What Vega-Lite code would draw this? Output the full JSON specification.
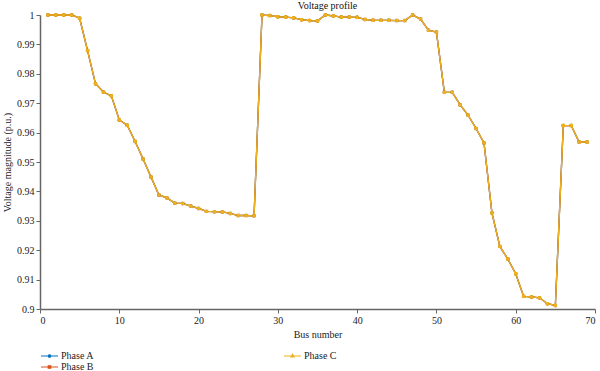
{
  "$schema": "https://vega.github.io/schema/vega-lite/v6.json",
  "width": 555,
  "height": 294,
  "autosize": {"type": "none"},
  "padding": {"left": 40, "top": 15, "right": 5, "bottom": 62},
  "config": {
    "font": "Liberation Serif",
    "view": {"stroke": null},
    "axis": {"labelFont": "Liberation Serif", "titleFont": "Liberation Serif", "labelFontSize": 10, "titleFontSize": 10, "titleFontWeight": "normal", "domainColor": "#666666", "tickColor": "#666666", "labelColor": "#222222", "titleColor": "#222222", "grid": false, "tickSize": 4, "domainWidth": 1.5},
    "legend": {"labelFont": "Liberation Serif", "labelFontSize": 10, "labelColor": "#222222"}
  },
  "title": {"text": "Voltage profile", "font": "Liberation Serif", "fontSize": 10, "fontWeight": "normal", "color": "#111111", "anchor": "middle", "offset": -1, "dx": 10},
  "data": {"values": [
    {"bus":1,"phase":"Phase A","v":1.0},{"bus":2,"phase":"Phase A","v":1.0},{"bus":3,"phase":"Phase A","v":1.0},{"bus":4,"phase":"Phase A","v":1.0},{"bus":5,"phase":"Phase A","v":0.9989},{"bus":6,"phase":"Phase A","v":0.9879},{"bus":7,"phase":"Phase A","v":0.9766},{"bus":8,"phase":"Phase A","v":0.9738},{"bus":9,"phase":"Phase A","v":0.9725},{"bus":10,"phase":"Phase A","v":0.9643},{"bus":11,"phase":"Phase A","v":0.9625},{"bus":12,"phase":"Phase A","v":0.957},{"bus":13,"phase":"Phase A","v":0.951},{"bus":14,"phase":"Phase A","v":0.9449},{"bus":15,"phase":"Phase A","v":0.9388},{"bus":16,"phase":"Phase A","v":0.9378},{"bus":17,"phase":"Phase A","v":0.936},{"bus":18,"phase":"Phase A","v":0.9359},{"bus":19,"phase":"Phase A","v":0.935},{"bus":20,"phase":"Phase A","v":0.9342},{"bus":21,"phase":"Phase A","v":0.9332},{"bus":22,"phase":"Phase A","v":0.9331},{"bus":23,"phase":"Phase A","v":0.933},{"bus":24,"phase":"Phase A","v":0.9325},{"bus":25,"phase":"Phase A","v":0.9318},{"bus":26,"phase":"Phase A","v":0.9318},{"bus":27,"phase":"Phase A","v":0.9317},{"bus":28,"phase":"Phase A","v":1.0},{"bus":29,"phase":"Phase A","v":0.9998},{"bus":30,"phase":"Phase A","v":0.9994},{"bus":31,"phase":"Phase A","v":0.9993},{"bus":32,"phase":"Phase A","v":0.999},{"bus":33,"phase":"Phase A","v":0.9984},{"bus":34,"phase":"Phase A","v":0.9981},{"bus":35,"phase":"Phase A","v":0.998},{"bus":36,"phase":"Phase A","v":1.0},{"bus":37,"phase":"Phase A","v":0.9997},{"bus":38,"phase":"Phase A","v":0.9993},{"bus":39,"phase":"Phase A","v":0.9993},{"bus":40,"phase":"Phase A","v":0.9992},{"bus":41,"phase":"Phase A","v":0.9985},{"bus":42,"phase":"Phase A","v":0.9982},{"bus":43,"phase":"Phase A","v":0.9982},{"bus":44,"phase":"Phase A","v":0.9982},{"bus":45,"phase":"Phase A","v":0.9981},{"bus":46,"phase":"Phase A","v":0.9981},{"bus":47,"phase":"Phase A","v":1.0},{"bus":48,"phase":"Phase A","v":0.9986},{"bus":49,"phase":"Phase A","v":0.9948},{"bus":50,"phase":"Phase A","v":0.9942},{"bus":51,"phase":"Phase A","v":0.9737},{"bus":52,"phase":"Phase A","v":0.9737},{"bus":53,"phase":"Phase A","v":0.9694},{"bus":54,"phase":"Phase A","v":0.9659},{"bus":55,"phase":"Phase A","v":0.9614},{"bus":56,"phase":"Phase A","v":0.9565},{"bus":57,"phase":"Phase A","v":0.9327},{"bus":58,"phase":"Phase A","v":0.9213},{"bus":59,"phase":"Phase A","v":0.917},{"bus":60,"phase":"Phase A","v":0.912},{"bus":61,"phase":"Phase A","v":0.9043},{"bus":62,"phase":"Phase A","v":0.9041},{"bus":63,"phase":"Phase A","v":0.9038},{"bus":64,"phase":"Phase A","v":0.9018},{"bus":65,"phase":"Phase A","v":0.9012},{"bus":66,"phase":"Phase A","v":0.9624},{"bus":67,"phase":"Phase A","v":0.9624},{"bus":68,"phase":"Phase A","v":0.9568},{"bus":69,"phase":"Phase A","v":0.9568},
    {"bus":1,"phase":"Phase B","v":1.0},{"bus":2,"phase":"Phase B","v":1.0},{"bus":3,"phase":"Phase B","v":1.0},{"bus":4,"phase":"Phase B","v":1.0},{"bus":5,"phase":"Phase B","v":0.9989},{"bus":6,"phase":"Phase B","v":0.9879},{"bus":7,"phase":"Phase B","v":0.9766},{"bus":8,"phase":"Phase B","v":0.9738},{"bus":9,"phase":"Phase B","v":0.9725},{"bus":10,"phase":"Phase B","v":0.9643},{"bus":11,"phase":"Phase B","v":0.9625},{"bus":12,"phase":"Phase B","v":0.957},{"bus":13,"phase":"Phase B","v":0.951},{"bus":14,"phase":"Phase B","v":0.9449},{"bus":15,"phase":"Phase B","v":0.9388},{"bus":16,"phase":"Phase B","v":0.9378},{"bus":17,"phase":"Phase B","v":0.936},{"bus":18,"phase":"Phase B","v":0.9359},{"bus":19,"phase":"Phase B","v":0.935},{"bus":20,"phase":"Phase B","v":0.9342},{"bus":21,"phase":"Phase B","v":0.9332},{"bus":22,"phase":"Phase B","v":0.9331},{"bus":23,"phase":"Phase B","v":0.933},{"bus":24,"phase":"Phase B","v":0.9325},{"bus":25,"phase":"Phase B","v":0.9318},{"bus":26,"phase":"Phase B","v":0.9318},{"bus":27,"phase":"Phase B","v":0.9317},{"bus":28,"phase":"Phase B","v":1.0},{"bus":29,"phase":"Phase B","v":0.9998},{"bus":30,"phase":"Phase B","v":0.9994},{"bus":31,"phase":"Phase B","v":0.9993},{"bus":32,"phase":"Phase B","v":0.999},{"bus":33,"phase":"Phase B","v":0.9984},{"bus":34,"phase":"Phase B","v":0.9981},{"bus":35,"phase":"Phase B","v":0.998},{"bus":36,"phase":"Phase B","v":1.0},{"bus":37,"phase":"Phase B","v":0.9997},{"bus":38,"phase":"Phase B","v":0.9993},{"bus":39,"phase":"Phase B","v":0.9993},{"bus":40,"phase":"Phase B","v":0.9992},{"bus":41,"phase":"Phase B","v":0.9985},{"bus":42,"phase":"Phase B","v":0.9982},{"bus":43,"phase":"Phase B","v":0.9982},{"bus":44,"phase":"Phase B","v":0.9982},{"bus":45,"phase":"Phase B","v":0.9981},{"bus":46,"phase":"Phase B","v":0.9981},{"bus":47,"phase":"Phase B","v":1.0},{"bus":48,"phase":"Phase B","v":0.9986},{"bus":49,"phase":"Phase B","v":0.9948},{"bus":50,"phase":"Phase B","v":0.9942},{"bus":51,"phase":"Phase B","v":0.9737},{"bus":52,"phase":"Phase B","v":0.9737},{"bus":53,"phase":"Phase B","v":0.9694},{"bus":54,"phase":"Phase B","v":0.9659},{"bus":55,"phase":"Phase B","v":0.9614},{"bus":56,"phase":"Phase B","v":0.9565},{"bus":57,"phase":"Phase B","v":0.9327},{"bus":58,"phase":"Phase B","v":0.9213},{"bus":59,"phase":"Phase B","v":0.917},{"bus":60,"phase":"Phase B","v":0.912},{"bus":61,"phase":"Phase B","v":0.9043},{"bus":62,"phase":"Phase B","v":0.9041},{"bus":63,"phase":"Phase B","v":0.9038},{"bus":64,"phase":"Phase B","v":0.9018},{"bus":65,"phase":"Phase B","v":0.9012},{"bus":66,"phase":"Phase B","v":0.9624},{"bus":67,"phase":"Phase B","v":0.9624},{"bus":68,"phase":"Phase B","v":0.9568},{"bus":69,"phase":"Phase B","v":0.9568},
    {"bus":1,"phase":"Phase C","v":1.0},{"bus":2,"phase":"Phase C","v":1.0},{"bus":3,"phase":"Phase C","v":1.0},{"bus":4,"phase":"Phase C","v":1.0},{"bus":5,"phase":"Phase C","v":0.9989},{"bus":6,"phase":"Phase C","v":0.9879},{"bus":7,"phase":"Phase C","v":0.9766},{"bus":8,"phase":"Phase C","v":0.9738},{"bus":9,"phase":"Phase C","v":0.9725},{"bus":10,"phase":"Phase C","v":0.9643},{"bus":11,"phase":"Phase C","v":0.9625},{"bus":12,"phase":"Phase C","v":0.957},{"bus":13,"phase":"Phase C","v":0.951},{"bus":14,"phase":"Phase C","v":0.9449},{"bus":15,"phase":"Phase C","v":0.9388},{"bus":16,"phase":"Phase C","v":0.9378},{"bus":17,"phase":"Phase C","v":0.936},{"bus":18,"phase":"Phase C","v":0.9359},{"bus":19,"phase":"Phase C","v":0.935},{"bus":20,"phase":"Phase C","v":0.9342},{"bus":21,"phase":"Phase C","v":0.9332},{"bus":22,"phase":"Phase C","v":0.9331},{"bus":23,"phase":"Phase C","v":0.933},{"bus":24,"phase":"Phase C","v":0.9325},{"bus":25,"phase":"Phase C","v":0.9318},{"bus":26,"phase":"Phase C","v":0.9318},{"bus":27,"phase":"Phase C","v":0.9317},{"bus":28,"phase":"Phase C","v":1.0},{"bus":29,"phase":"Phase C","v":0.9998},{"bus":30,"phase":"Phase C","v":0.9994},{"bus":31,"phase":"Phase C","v":0.9993},{"bus":32,"phase":"Phase C","v":0.999},{"bus":33,"phase":"Phase C","v":0.9984},{"bus":34,"phase":"Phase C","v":0.9981},{"bus":35,"phase":"Phase C","v":0.998},{"bus":36,"phase":"Phase C","v":1.0},{"bus":37,"phase":"Phase C","v":0.9997},{"bus":38,"phase":"Phase C","v":0.9993},{"bus":39,"phase":"Phase C","v":0.9993},{"bus":40,"phase":"Phase C","v":0.9992},{"bus":41,"phase":"Phase C","v":0.9985},{"bus":42,"phase":"Phase C","v":0.9982},{"bus":43,"phase":"Phase C","v":0.9982},{"bus":44,"phase":"Phase C","v":0.9982},{"bus":45,"phase":"Phase C","v":0.9981},{"bus":46,"phase":"Phase C","v":0.9981},{"bus":47,"phase":"Phase C","v":1.0},{"bus":48,"phase":"Phase C","v":0.9986},{"bus":49,"phase":"Phase C","v":0.9948},{"bus":50,"phase":"Phase C","v":0.9942},{"bus":51,"phase":"Phase C","v":0.9737},{"bus":52,"phase":"Phase C","v":0.9737},{"bus":53,"phase":"Phase C","v":0.9694},{"bus":54,"phase":"Phase C","v":0.9659},{"bus":55,"phase":"Phase C","v":0.9614},{"bus":56,"phase":"Phase C","v":0.9565},{"bus":57,"phase":"Phase C","v":0.9327},{"bus":58,"phase":"Phase C","v":0.9213},{"bus":59,"phase":"Phase C","v":0.917},{"bus":60,"phase":"Phase C","v":0.912},{"bus":61,"phase":"Phase C","v":0.9043},{"bus":62,"phase":"Phase C","v":0.9041},{"bus":63,"phase":"Phase C","v":0.9038},{"bus":64,"phase":"Phase C","v":0.9018},{"bus":65,"phase":"Phase C","v":0.9012},{"bus":66,"phase":"Phase C","v":0.9624},{"bus":67,"phase":"Phase C","v":0.9624},{"bus":68,"phase":"Phase C","v":0.9568},{"bus":69,"phase":"Phase C","v":0.9568}
  ]},
  "encoding": {
    "x": {"field": "bus", "type": "quantitative", "scale": {"domain": [0, 70], "nice": false}, "axis": {"title": "Bus number", "values": [0,10,20,30,40,50,60,70], "titlePadding": 4}},
    "y": {"field": "v", "type": "quantitative", "scale": {"domain": [0.9, 1.0], "nice": false, "zero": false}, "axis": {"title": "Voltage magnitude (p.u.)", "values": [0.9,0.91,0.92,0.93,0.94,0.95,0.96,0.97,0.98,0.99,1.0], "format": "~g", "titlePadding": 4}},
    "color": {"field": "phase", "type": "nominal", "scale": {"domain": ["Phase A", "Phase C", "Phase B"], "range": ["#0072BD", "#EDB120", "#D95319"]},
      "legend": {"title": null, "orient": "none", "legendX": 0, "legendY": 335, "direction": "horizontal", "columns": 2, "columnPadding": 186, "rowPadding": 0, "symbolSize": 100, "symbolStrokeWidth": 1.2, "labelOffset": 9,
        "encode": {"symbols": {"update": {
          "shape": {"signal": "datum.value === 'Phase A' ? 'M-1,0H2.4M0.95,0A0.25,0.25,0,1,1,0.45,0A0.25,0.25,0,1,1,0.95,0' : datum.value === 'Phase B' ? 'M-1,0H2.4M0.45,-0.25H0.95V0.25H0.45Z' : 'M-1,0H2.4M0.7,-0.35L1.0,0.2H0.4Z'"},
          "stroke": {"signal": "scale('color', datum.value)"},
          "fill": {"signal": "scale('color', datum.value)"},
          "strokeWidth": {"value": 1.2}
        }}}
      }}
  },
  "layer": [
    {"mark": {"type": "line", "strokeWidth": 1.3}, "encoding": {"order": {"field": "bus"}}},
    {"mark": {"type": "point", "filled": true, "size": 12, "opacity": 1}, "encoding": {"shape": {"field": "phase", "type": "nominal", "scale": {"domain": ["Phase A", "Phase B", "Phase C"], "range": ["circle", "circle", "square"]}, "legend": null}}}
  ]
}
